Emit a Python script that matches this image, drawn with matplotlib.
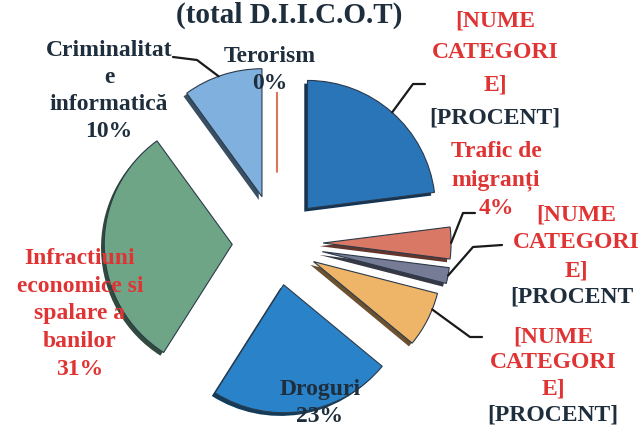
#coding: utf-8
import matplotlib
matplotlib.use('Agg')
import matplotlib.pyplot as plt
import numpy as np

# date (procente, total D.I.I.C.O.T)
categorii = ['[NUME CATEGORIE]', 'Trafic de migranți', '[NUME CATEGORIE]',
             '[NUME CATEGORIE]', 'Droguri',
             'Infractiuni economice si spalare a banilor',
             'Criminalitate informatică', 'Terorism']
procente = [23, 4, 2, 7, 23, 31, 10, 0]
culori = ['#2a74b8', '#d97864', '#777c96', '#eeb468', '#2a82c9',
          '#6fa587', '#7fb0de', '#d9765c']
explode = [0.36, 0.36, 0.36, 0.32, 0.33, 0.35, 0.38, 0.55]

W, H = 639, 432
# centrul pie-ului (pixeli) si raza
CX, CY = 277, 243
R = 128

RED = '#e03434'
DARK = '#1f2e3d'
FONT = 'Liberation Serif'


def darker(c, f=0.45):
    r, g, b = matplotlib.colors.to_rgb(c)
    return (r * f, g * f, b * f)


def px(x, y):
    # pixeli (de sus) -> coordonate figura
    return x / W, 1 - y / H


fig = plt.figure(figsize=(W / 100, H / 100), dpi=100)
ax = fig.add_axes([0, 0, 1, 1])

# "umbra" 3D
umbra, _ = ax.pie(procente, explode=explode, colors=[darker(c) for c in culori],
                  startangle=90, counterclock=False, center=(-0.025, -0.025),
                  wedgeprops=dict(linewidth=0))
wedges, _ = ax.pie(procente, explode=explode, colors=culori,
                   startangle=90, counterclock=False,
                   wedgeprops=dict(linewidth=0.8, edgecolor='#2b3a4a'))
# terorism 0% -> doar o linie subtire
wedges[-1].set_radius(0.63)
wedges[-1].set_edgecolor('#d9765c')
wedges[-1].set_linewidth(1.5)
umbra[-1].set_visible(False)

ax.set_aspect('auto')
ax.set_xlim(-CX / R, (W - CX) / R)
ax.set_ylim(-(H - CY) / R, CY / R)
ax.axis('off')


def arc_point(i, frac=0.5):
    w = wedges[i]
    a = np.deg2rad(w.theta1 + (w.theta2 - w.theta1) * frac)
    return w.center[0] + w.r * np.cos(a), w.center[1] + w.r * np.sin(a)


def leader(i, frac, elbow, end):
    x0, y0 = arc_point(i, frac)
    inv = ax.transData.inverted()
    pts = [ax.transData.transform((x0, y0))]
    for p in (elbow, end):
        fx, fy = px(*p)
        pts.append(fig.transFigure.transform((fx, fy)))
    pts = inv.transform(np.array(pts))
    ax.plot(pts[:, 0], pts[:, 1], color='#1a1a1a', lw=1.6,
            solid_capstyle='round', zorder=5)


def txt(x, y, s, color, size=17, ls=1.4):
    fig.text(*px(x, y), s, color=color, fontsize=size, fontweight='bold',
             family=FONT, ha='center', va='center', linespacing=ls)


# titlu
txt(289, 15, '(total D.I.I.C.O.T)', DARK, size=21)

# etichete
txt(495, 53, '[NUME\nCATEGORI\nE]', RED, ls=1.68)
txt(495, 118, '[PROCENT]', DARK)

txt(496, 180, 'Trafic de\nmigranți\n4%', RED, ls=1.42)

txt(576, 243, '[NUME\nCATEGORI\nE]', RED, ls=1.42)
txt(572, 297, '[PROCENT', DARK)

txt(553, 363, '[NUME\nCATEGORI\nE]', RED, ls=1.33)
txt(553, 415, '[PROCENT]', DARK)

txt(270, 70, 'Terorism\n0%', DARK, ls=1.4)
txt(109, 91, 'Criminalitat\ne\ninformatică\n10%', DARK, ls=1.38)
txt(80, 314, 'Infractiuni\neconomice si\nspalare a\nbanilor\n31%', RED, ls=1.43)
txt(320, 403, 'Droguri\n23%', DARK, ls=1.33)

# linii de legatura
leader(0, 0.5, (413, 84), (425, 84))
leader(1, 0.5, (463, 213), (475, 213))
leader(2, 0.5, (473, 247), (502, 245))
leader(3, 0.7, (470, 337), (482, 337))
leader(6, 0.55, (197, 60), (173, 57))

fig.savefig('out.png', dpi=100)
